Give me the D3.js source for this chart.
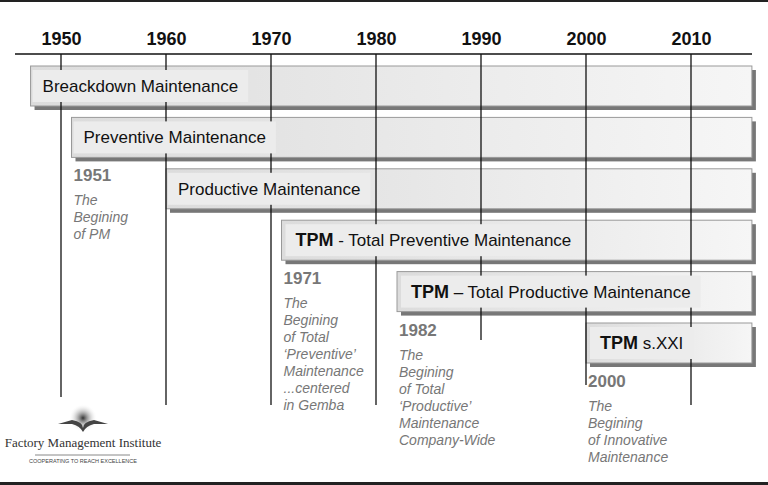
<!DOCTYPE html>
<html><head><meta charset="utf-8">
<script src="https://cdn.jsdelivr.net/npm/d3@7"></script>
<style>body{margin:0;background:#fff}</style>
</head><body>
<svg id="c" width="768" height="485"></svg>
<script>
// data
var ticks = [1950, 1960, 1970, 1980, 1990, 2000, 2010];
var tickLineEnds = [397, 405, 405, 405, 340, 385, 405];
var phaseNames = ["Breackdown Maintenance", "Preventive Maintenance", "Productive Maintenance",
  "TPM - Total Preventive Maintenance", "TPM \u2013 Total Productive Maintenance", "TPM s.XXI"];
var phaseStart = [1947.1, 1951, 1960, 1971, 1982, 2000];
var phaseEnd = 2015.8;
var noteYears = ["1951", "1971", "1982", "2000"];
var noteStart = [1951, 1971, 1982, 2000];
var noteRow = [1, 3, 4, 5];
var noteLines = [
  ["The", "Begining", "of PM"],
  ["The", "Begining", "of Total", "\u2018Preventive\u2019", "Maintenance", "...centered", "in Gemba"],
  ["The", "Begining", "of Total", "\u2018Productive\u2019", "Maintenance", "Company-Wide"],
  ["The", "Begining", "of Innovative", "Maintenance"]
];

var svg = d3.select("#c");
var x = d3.scaleLinear().domain([1950, 2010]).range([61, 691]);
var rowY = d3.scaleLinear().domain([0, 5]).range([66, 323]);
var barH = 40;
var font = "Liberation Sans, Arial";

svg.append("rect").attr("x", 0).attr("y", 0).attr("width", 768).attr("height", 2).attr("fill", "#222");
svg.append("rect").attr("x", 0).attr("y", 482).attr("width", 768).attr("height", 3).attr("fill", "#222");

var defs = svg.append("defs");
var g = defs.append("linearGradient").attr("id", "bg");
g.append("stop").attr("offset", "0%").attr("stop-color", "#dcdcdc");
g.append("stop").attr("offset", "100%").attr("stop-color", "#f6f6f6");

// axis
var axis = d3.axisTop(x).tickValues(ticks).tickFormat(d3.format("d")).tickSize(0).tickPadding(9);
var ax = svg.append("g").attr("transform", "translate(0,54)").call(axis);
ax.select(".domain").remove();
ax.selectAll("text").attr("font-family", font).attr("font-weight", "bold")
  .attr("font-size", 18).attr("fill", "#111");
svg.append("line").attr("x1", 15).attr("x2", 752).attr("y1", 54).attr("y2", 54).attr("stroke", "#111").attr("stroke-width", 1.5);

// bars
var bars = svg.selectAll("g.bar").data(phaseNames).enter().append("g").attr("class", "bar");
bars.append("rect").attr("x", function (d, i) { return x(phaseStart[i]) + 4; })
  .attr("y", function (d, i) { return rowY(i) + 4; })
  .attr("width", function (d, i) { return x(phaseEnd) - x(phaseStart[i]); })
  .attr("height", barH).attr("fill", "#777");
bars.append("rect").attr("x", function (d, i) { return x(phaseStart[i]); })
  .attr("y", function (d, i) { return rowY(i); })
  .attr("width", function (d, i) { return x(phaseEnd) - x(phaseStart[i]); })
  .attr("height", barH).attr("fill", "url(#bg)").attr("stroke", "#999").attr("stroke-width", 1);

// vertical year lines
svg.selectAll("line.v").data(ticks).enter().append("line")
  .attr("x1", function (d) { return x(d); }).attr("x2", function (d) { return x(d); })
  .attr("y1", 54).attr("y2", function (d, i) { return tickLineEnds[i]; })
  .attr("stroke", "#111").attr("stroke-width", 1.3);

// labels with light backing (above the lines)
phaseNames.forEach(function (d, i) {
  var sel = svg.append("g");
  var lx = x(phaseStart[i]) + 12, ly = rowY(i) + 26;
  var bgR = sel.append("rect").attr("fill", "#ececec");
  var t = sel.append("text").attr("x", lx).attr("y", ly)
    .attr("font-family", font).attr("font-size", 17).attr("fill", "#111");
  var m = d.match(/^(TPM)(.*)$/);
  if (m) {
    t.attr("x", lx + 2);
    t.append("tspan").attr("font-weight", "bold").attr("font-size", 18).text(m[1]);
    t.append("tspan").text(m[2]);
  } else t.text(d);
  var b = t.node().getBBox();
  bgR.attr("x", b.x - 10).attr("y", rowY(i) + 4).attr("width", b.width + 20).attr("height", barH - 8);
});

// notes
noteYears.forEach(function (yr, i) {
  var r = noteRow[i];
  var nx = x(noteStart[i]) + 2, ny = rowY(r) + barH + 24;
  svg.append("text").attr("x", nx).attr("y", ny).text(yr)
    .attr("font-family", font).attr("font-weight", "bold")
    .attr("font-size", 17).attr("fill", "#777");
  svg.append("text").attr("font-family", font).attr("font-style", "italic")
    .attr("font-size", 14).attr("fill", "#777")
    .selectAll("tspan").data(noteLines[i]).enter().append("tspan")
    .attr("x", nx).attr("y", function (d, j) { return ny + 24 + j * 17; }).text(function (d) { return d; });
});

// logo
var logo = svg.append("g");
var lg = defs.append("radialGradient").attr("id", "sun");
lg.append("stop").attr("offset", "0%").attr("stop-color", "#333");
lg.append("stop").attr("offset", "100%").attr("stop-color", "#fff").attr("stop-opacity", 0);
logo.append("circle").attr("cx", 83).attr("cy", 418).attr("r", 14).attr("fill", "url(#sun)");
logo.append("path").attr("d", "M58,424 L72,420 Q83,422 83,428 Q83,422 94,420 L108,424 L94,424 Q86,426 83,432 Q80,426 72,424 Z").attr("fill", "#444");
logo.append("text").attr("x", 83).attr("y", 447).attr("text-anchor", "middle")
  .attr("font-family", "Liberation Serif, Times New Roman").attr("font-size", 13).attr("fill", "#333")
  .text("Factory Management Institute");
logo.append("line").attr("x1", 35).attr("x2", 130).attr("y1", 455).attr("y2", 455).attr("stroke", "#888");
logo.append("text").attr("x", 83).attr("y", 463).attr("text-anchor", "middle")
  .attr("font-family", font).attr("font-size", 5.5).attr("fill", "#444")
  .text("COOPERATING TO REACH EXCELLENCE");
</script>
</body></html>
